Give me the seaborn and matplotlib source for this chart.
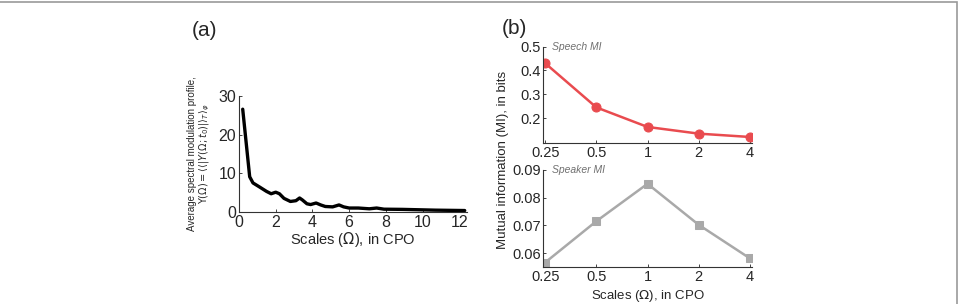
import numpy as np
import seaborn as sns
import matplotlib.pyplot as plt
from matplotlib.patches import Rectangle

# panel (a): average spectral modulation profile
omega = [0.2, 0.58, 0.76, 1.1, 1.5, 1.75, 2.0, 2.2, 2.45, 2.8, 3.1, 3.3, 3.45,
         3.7, 3.9, 4.2, 4.45, 4.7, 5.1, 5.45, 5.7, 6.0, 6.5, 7.1, 7.5, 7.9,
         8.9, 10.7, 12.3]
profile = [26.6, 9.1, 7.5, 6.5, 5.3, 4.7, 5.1, 4.7, 3.5, 2.7, 2.9, 3.6, 3.1,
           2.1, 1.9, 2.3, 1.8, 1.4, 1.3, 1.8, 1.3, 1.0, 1.0, 0.8, 1.0, 0.7,
           0.65, 0.45, 0.35]

# panel (b): mutual information per scale
scales = [0.25, 0.5, 1, 2, 4]
scale_labels = ['0.25', '0.5', '1', '2', '4']
speech_mi = [0.43, 0.245, 0.163, 0.135, 0.121]
speaker_mi = [0.0566, 0.0715, 0.085, 0.0702, 0.0581]

sns.set_style('ticks')
plt.rcParams['font.family'] = ['Liberation Sans', 'DejaVu Sans']
plt.rcParams['mathtext.fontset'] = 'dejavusans'

red = '#E94B4F'
gray = '#A9A9A9'

fig = plt.figure(figsize=(9.6, 3.04), dpi=100)

# faint frame (only top/right edges visible)
fig.patches.append(Rectangle((-0.02, -0.05), 1.017, 1.043, transform=fig.transFigure,
                             fill=False, edgecolor='#9a9a9a', lw=1.2))

ax_a = fig.add_axes([0.249, 0.303, 0.237, 0.381])
sns.lineplot(x=omega, y=profile, color='black', lw=2.4, ax=ax_a)
ax_a.set_xlim(0, 12.4)
ax_a.set_ylim(0, 30)
ax_a.set_xticks([0, 2, 4, 6, 8, 10, 12])
ax_a.set_yticks([0, 10, 20, 30])
ax_a.set_xlabel(r'Scales ($\Omega$), in CPO', fontsize=10.5, labelpad=0)
ax_a.set_ylabel('Average spectral modulation profile,\n'
                r'$\Upsilon(\Omega)=\langle\langle|Y(\Omega;t_0)|\rangle_T\rangle_\varphi$',
                fontsize=7, labelpad=5, linespacing=1.0)

ax_b1 = fig.add_axes([0.566, 0.529, 0.217, 0.318])
sns.lineplot(x=scales, y=speech_mi, color=red, lw=1.8, marker='o',
             markersize=6.5, markeredgecolor=red, ax=ax_b1)
ax_b1.set_ylim(0.095, 0.5)
ax_b1.set_yticks([0.2, 0.3, 0.4, 0.5])
ax_b1.text(0.04, 0.5, 'Speech MI', fontsize=7.5, style='italic', color='#707070',
           transform=ax_b1.get_yaxis_transform(), va='center')

ax_b2 = fig.add_axes([0.566, 0.121, 0.217, 0.320])
sns.lineplot(x=scales, y=speaker_mi, color=gray, lw=1.8, marker='s',
             markersize=6, markeredgecolor=gray, ax=ax_b2)
ax_b2.set_ylim(0.0549, 0.09)
ax_b2.set_yticks([0.06, 0.07, 0.08, 0.09])
ax_b2.set_yticklabels(['0.06', '0.07', '0.08', '0.09'])
ax_b2.text(0.04, 0.09, 'Speaker MI', fontsize=7.5, style='italic', color='#707070',
           transform=ax_b2.get_yaxis_transform(), va='center')
ax_b2.set_xlabel(r'Scales ($\Omega$), in CPO', fontsize=9.5, labelpad=3)

for ax in (ax_b1, ax_b2):
    ax.set_xscale('log', base=2)
    ax.set_xlim(0.25 * 2 ** -0.035, 4 * 2 ** 0.035)
    ax.set_xticks(scales)
    ax.set_xticklabels(scale_labels)
    ax.minorticks_off()

for ax in (ax_a, ax_b1, ax_b2):
    sns.despine(ax=ax)
    ax.tick_params(direction='in', length=2.5, width=0.6, labelsize=10.5, pad=2)
    for s in ('left', 'bottom'):
        ax.spines[s].set_linewidth(0.8)
        ax.spines[s].set_color('#333333')
ax_a.tick_params(labelsize=11.5)

fig.text(503 / 960, 1 - 160 / 304, 'Mutual information (MI), in bits', rotation=90,
         fontsize=9.5, ha='center', va='center')

fig.text(192 / 960, 1 - 31 / 304, '(a)', fontsize=15, ha='left', va='center')
fig.text(502 / 960, 1 - 29 / 304, '(b)', fontsize=15, ha='left', va='center')

fig.savefig('out.png', dpi=100)
